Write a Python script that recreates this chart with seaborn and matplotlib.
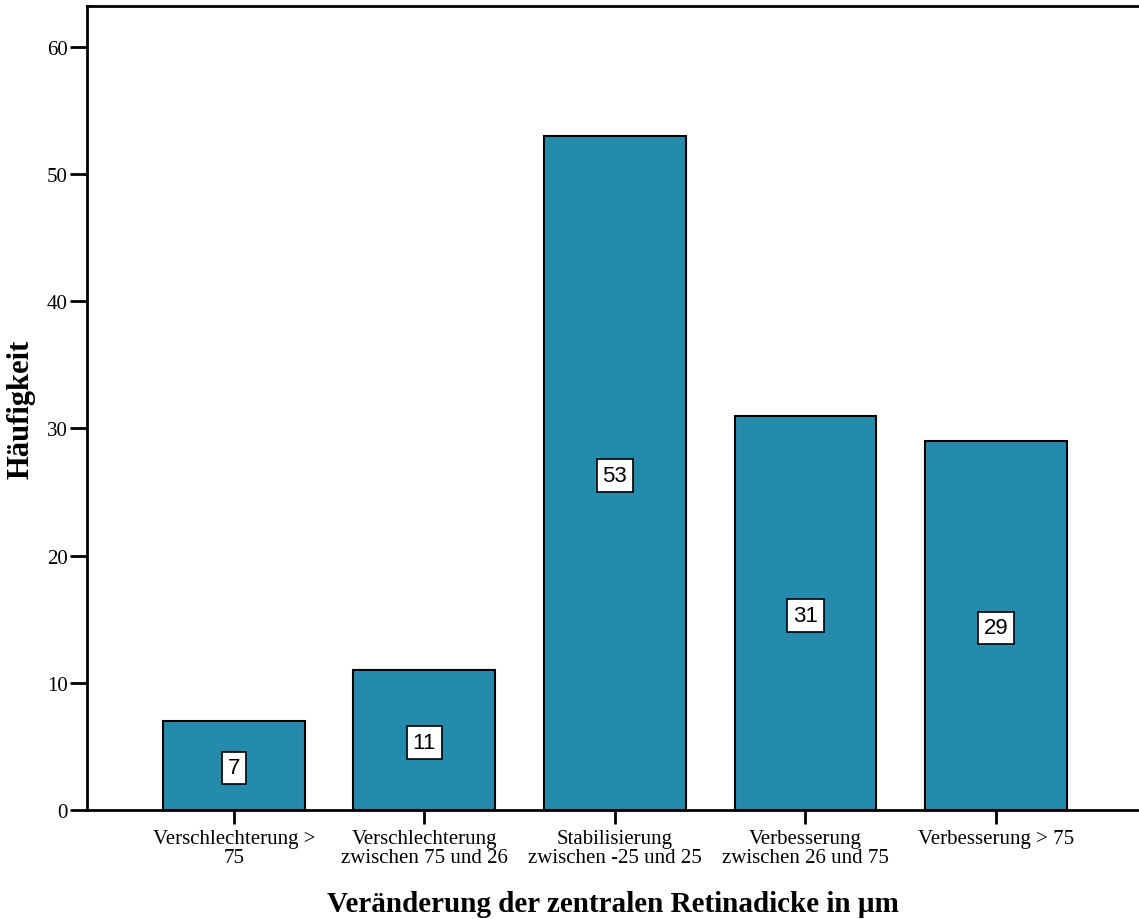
import pandas as pd
import matplotlib.pyplot as plt
import seaborn as sns

# data
categories = ["Verschlechterung >\n75",
              "Verschlechterung\nzwischen 75 und 26",
              "Stabilisierung\nzwischen -25 und 25",
              "Verbesserung\nzwischen 26 und 75",
              "Verbesserung > 75"]
counts = [7, 11, 53, 31, 29]
yticks = [0, 10, 20, 30, 40, 50, 60]

df = pd.DataFrame({"Kategorie": categories, "Anzahl": counts})

sns.set_style("white")
plt.rcParams["font.family"] = ["Liberation Serif", "DejaVu Serif"]
plt.rcParams["text.color"] = "black"
plt.rcParams["axes.labelcolor"] = "black"
plt.rcParams["xtick.color"] = "black"
plt.rcParams["ytick.color"] = "black"

fig = plt.figure(figsize=(11.39, 9.2), dpi=100)
ax = fig.add_axes([0.0764, 0.1185, 0.9236, 0.874])

sns.barplot(data=df, x="Kategorie", y="Anzahl", color="#258bad", saturation=1,
            width=0.745, edgecolor="black", linewidth=1.5, ax=ax)

# value labels in white boxes at half bar height
for i, v in enumerate(counts):
    ax.text(i, v / 2, str(v), ha="center", va="center_baseline", fontsize=16,
            family="Liberation Sans",
            bbox=dict(boxstyle="square,pad=0.26", facecolor="white",
                      edgecolor="black", linewidth=1.2))

ax.set_xlim(-0.77, 4.75)
ax.set_ylim(0, 63.2)
ax.set_yticks(yticks)
ax.tick_params(axis="y", direction="out", length=12, width=2, labelsize=15, pad=2, left=True)
ax.tick_params(axis="x", direction="out", length=10, width=2, labelsize=15, pad=4, bottom=True)
for lab in ax.get_xticklabels():
    lab.set_multialignment("center")
    lab.set_linespacing(0.95)

for s in ["left", "bottom", "top"]:
    ax.spines[s].set_linewidth(2)
    ax.spines[s].set_color("black")
ax.spines["right"].set_visible(False)

ax.set_xlabel("Veränderung der zentralen Retinadicke in µm", fontsize=21,
              fontweight="bold", labelpad=17)
ax.set_ylabel("Häufigkeit", fontsize=22, fontweight="bold")
ax.yaxis.set_label_coords(-0.0494, 0.5)

fig.savefig("out.png", dpi=100)
